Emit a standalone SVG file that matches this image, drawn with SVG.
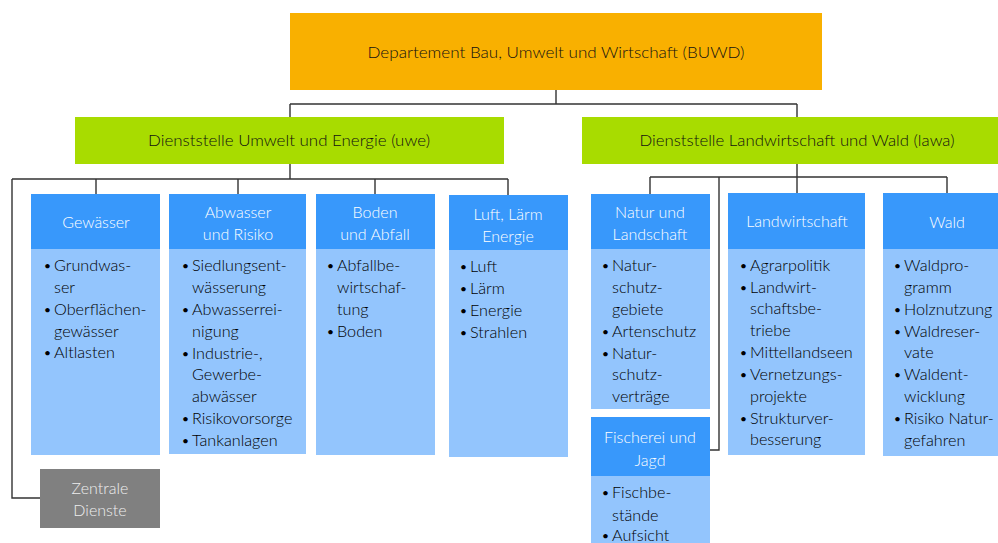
<svg xmlns="http://www.w3.org/2000/svg" width="998" height="543" viewBox="0 0 998 543">
<style>
.hd{fill:#3898fb}
.bd{fill:#93c5fd}
.ht{font-family:Lato,"Open Sans",sans-serif;font-size:16px;font-weight:300;fill:#ffffff;text-anchor:middle}
.bt{font-family:Lato,"Open Sans",sans-serif;font-size:16.2px;font-weight:300;fill:#000}
.bt tspan.b{font-size:12px;font-weight:400}
.tt{font-family:Lato,"Open Sans",sans-serif;font-size:15.5px;font-weight:300;fill:#111;text-anchor:middle}
.ln{fill:none;stroke:#333;stroke-width:1.4}
</style>
<rect width="998" height="543" fill="#fff"/>
<g id="connectors" class="ln">
<path d="M556 90V104M290 104H797M290 104V117M797 104V117"/>
<path d="M290 164V179M12 179H508M96 179V194M238 179V194M375 179V194M508 179V195M12 179V498H40"/>
<path d="M797 164V177M650 177H947M650 177V194M797 177V193M947 177V193M719 177V450H710"/>
</g>
<g id="buwd">
<rect x="290" y="13" width="532" height="77" fill="#f9b000"/>
<text class="tt" x="556" y="58" textLength="377" lengthAdjust="spacingAndGlyphs">Departement Bau, Umwelt und Wirtschaft (BUWD)</text>
</g>
<g id="uwe">
<rect x="75" y="117" width="429" height="47" fill="#a8dc00"/>
<text class="tt" x="289" y="146" textLength="282" lengthAdjust="spacingAndGlyphs">Dienststelle Umwelt und Energie (uwe)</text>
</g>
<g id="lawa">
<rect x="582" y="117" width="416" height="47" fill="#a8dc00"/>
<text class="tt" x="797" y="146" textLength="315" lengthAdjust="spacingAndGlyphs">Dienststelle Landwirtschaft und Wald (lawa)</text>
</g>
<g id="gewaesser">
<rect class="bd" x="31" y="194" width="129" height="261"/>
<rect class="hd" x="31" y="194" width="129" height="55"/>
<text class="ht" x="96" y="228">Gewässer</text>
<text class="bt"><tspan class="b" x="44" y="270">•</tspan><tspan x="54" y="271">Grundwas-</tspan><tspan x="54" y="293">ser</tspan><tspan class="b" x="44" y="314">•</tspan><tspan x="54" y="315">Oberflächen-</tspan><tspan x="54" y="337">gewässer</tspan><tspan class="b" x="44" y="357">•</tspan><tspan x="54" y="358">Altlasten</tspan></text>
</g>
<g id="abwasser">
<rect class="bd" x="169" y="194" width="137" height="260"/>
<rect class="hd" x="169" y="194" width="137" height="55"/>
<text class="ht"><tspan x="238" y="218">Abwasser</tspan><tspan x="238" y="240">und Risiko</tspan></text>
<text class="bt"><tspan class="b" x="182" y="270">•</tspan><tspan x="192" y="271">Siedlungsent-</tspan><tspan x="192" y="293">wässerung</tspan><tspan class="b" x="182" y="314">•</tspan><tspan x="192" y="315">Abwasserrei-</tspan><tspan x="192" y="337">nigung</tspan><tspan class="b" x="182" y="358">•</tspan><tspan x="192" y="359">Industrie-,</tspan><tspan x="192" y="380">Gewerbe-</tspan><tspan x="192" y="402">abwässer</tspan><tspan class="b" x="182" y="423">•</tspan><tspan x="192" y="424">Risikovorsorge</tspan><tspan class="b" x="182" y="445">•</tspan><tspan x="192" y="446">Tankanlagen</tspan></text>
</g>
<g id="boden">
<rect class="bd" x="316" y="194" width="119" height="261"/>
<rect class="hd" x="316" y="194" width="119" height="55"/>
<text class="ht"><tspan x="375" y="218">Boden</tspan><tspan x="375" y="240">und Abfall</tspan></text>
<text class="bt"><tspan class="b" x="327" y="270">•</tspan><tspan x="337" y="271">Abfallbe-</tspan><tspan x="337" y="293">wirtschaf-</tspan><tspan x="337" y="315">tung</tspan><tspan class="b" x="327" y="336">•</tspan><tspan x="337" y="337">Boden</tspan></text>
</g>
<g id="luft">
<rect class="bd" x="449" y="195" width="119" height="262"/>
<rect class="hd" x="449" y="195" width="119" height="55"/>
<text class="ht"><tspan x="508" y="220">Luft, Lärm</tspan><tspan x="508" y="242">Energie</tspan></text>
<text class="bt"><tspan class="b" x="460" y="271">•</tspan><tspan x="470" y="272">Luft</tspan><tspan class="b" x="460" y="293">•</tspan><tspan x="470" y="294">Lärm</tspan><tspan class="b" x="460" y="315">•</tspan><tspan x="470" y="316">Energie</tspan><tspan class="b" x="460" y="337">•</tspan><tspan x="470" y="338">Strahlen</tspan></text>
</g>
<g id="zentrale">
<rect x="40" y="469" width="120" height="59" fill="#808080"/>
<text class="ht" style="fill:#eeeeee"><tspan x="100" y="494">Zentrale</tspan><tspan x="100" y="516">Dienste</tspan></text>
</g>
<g id="natur">
<rect class="bd" x="591" y="194" width="119" height="215"/>
<rect class="hd" x="591" y="194" width="119" height="55"/>
<text class="ht"><tspan x="650" y="218">Natur und</tspan><tspan x="650" y="240">Landschaft</tspan></text>
<text class="bt"><tspan class="b" x="602" y="270">•</tspan><tspan x="612" y="271">Natur-</tspan><tspan x="612" y="293">schutz-</tspan><tspan x="612" y="315">gebiete</tspan><tspan class="b" x="602" y="336">•</tspan><tspan x="612" y="337">Artenschutz</tspan><tspan class="b" x="602" y="358">•</tspan><tspan x="612" y="359">Natur-</tspan><tspan x="612" y="380">schutz-</tspan><tspan x="612" y="402">verträge</tspan></text>
</g>
<g id="fischerei">
<rect class="bd" x="591" y="417" width="119" height="126"/>
<rect class="hd" x="591" y="417" width="119" height="59"/>
<text class="ht"><tspan x="650" y="443">Fischerei und</tspan><tspan x="650" y="466">Jagd</tspan></text>
<text class="bt"><tspan class="b" x="602" y="497">•</tspan><tspan x="612" y="498">Fischbe-</tspan><tspan x="612" y="521">stände</tspan><tspan class="b" x="602" y="540">•</tspan><tspan x="612" y="541">Aufsicht</tspan></text>
</g>
<g id="landwirtschaft">
<rect class="bd" x="728" y="193" width="137" height="262"/>
<rect class="hd" x="728" y="193" width="137" height="56"/>
<text class="ht" x="797" y="227">Landwirtschaft</text>
<text class="bt"><tspan class="b" x="740" y="270">•</tspan><tspan x="750" y="271">Agrarpolitik</tspan><tspan class="b" x="740" y="292">•</tspan><tspan x="750" y="293">Landwirt-</tspan><tspan x="750" y="314">schaftsbe-</tspan><tspan x="750" y="336">triebe</tspan><tspan class="b" x="740" y="357">•</tspan><tspan x="750" y="358">Mittellandseen</tspan><tspan class="b" x="740" y="379">•</tspan><tspan x="750" y="380">Vernetzungs-</tspan><tspan x="750" y="402">projekte</tspan><tspan class="b" x="740" y="423">•</tspan><tspan x="750" y="424">Strukturver-</tspan><tspan x="750" y="445">besserung</tspan></text>
</g>
<g id="wald">
<rect class="bd" x="883" y="193" width="115" height="263"/>
<rect class="hd" x="883" y="193" width="115" height="56"/>
<text class="ht" x="947" y="228">Wald</text>
<text class="bt"><tspan class="b" x="894" y="270">•</tspan><tspan x="904" y="271">Waldpro-</tspan><tspan x="904" y="293">gramm</tspan><tspan class="b" x="894" y="314">•</tspan><tspan x="904" y="315">Holznutzung</tspan><tspan class="b" x="894" y="336">•</tspan><tspan x="904" y="337">Waldreser-</tspan><tspan x="904" y="358">vate</tspan><tspan class="b" x="894" y="379">•</tspan><tspan x="904" y="380">Waldent-</tspan><tspan x="904" y="402">wicklung</tspan><tspan class="b" x="894" y="423">•</tspan><tspan x="904" y="424">Risiko Natur-</tspan><tspan x="904" y="446">gefahren</tspan></text>
</g>
</svg>
